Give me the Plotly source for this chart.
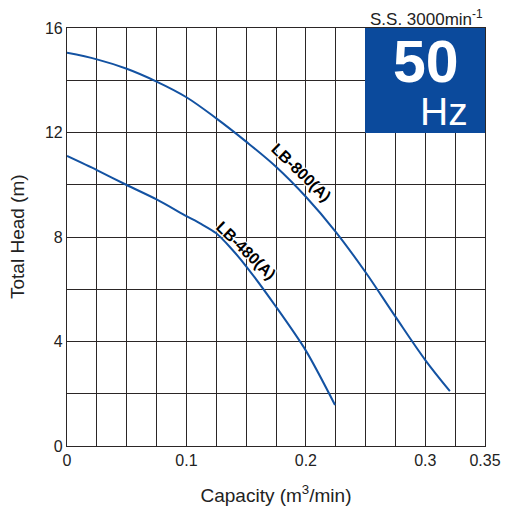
import plotly.graph_objects as go

# LB-800(A) performance curve (50 Hz)
q_800 = [0.0, 0.025, 0.05, 0.075, 0.1, 0.125, 0.15, 0.175, 0.2, 0.225, 0.25, 0.275, 0.3, 0.3206]
h_800 = [15.05, 14.80, 14.44, 13.95, 13.35, 12.54, 11.65, 10.69, 9.54, 8.2, 6.65, 4.95, 3.29, 2.1]

# LB-480(A) performance curve (50 Hz)
q_480 = [0.0, 0.025, 0.05, 0.075, 0.1, 0.1114, 0.125, 0.1373, 0.15, 0.175, 0.2, 0.2244]
h_480 = [11.1, 10.56, 9.99, 9.44, 8.80, 8.52, 8.14, 7.57, 6.88, 5.33, 3.65, 1.57]

x_ticks = [0, 0.1, 0.2, 0.3, 0.35]
x_labels = ["0", "0.1", "0.2", "0.3", "0.35"]
y_ticks = [0, 4, 8, 12, 16]

curve_color = "#1352a2"
grid_color = "#2b2626"
font_family = "Liberation Sans, Arial, sans-serif"

fig = go.Figure()
fig.add_trace(go.Scatter(x=q_800, y=h_800, mode="lines",
                         line=dict(color=curve_color, width=2, shape="spline", smoothing=1.0)))
fig.add_trace(go.Scatter(x=q_480, y=h_480, mode="lines",
                         line=dict(color=curve_color, width=2, shape="spline", smoothing=0.8)))

# curve labels with a white halo
halo = "white 1px 1px 1px, white -1px -1px 1px, white 1px -1px 1px, white -1px 1px 1px"
for name, xv, yv in [("LB-800(A)", 0.196, 10.45), ("LB-480(A)", 0.1497, 7.47)]:
    fig.add_annotation(x=xv, y=yv, text="<b>" + name + "</b>", showarrow=False,
                       textangle=44,
                       font=dict(family=font_family, size=16, color="black", shadow=halo))

# 50 Hz badge
fig.add_shape(type="rect", x0=0.25, x1=0.35, y0=12, y1=16,
              fillcolor="#0b4a9c", line=dict(color="#0b4a9c", width=1))
fig.add_annotation(x=0.3006, y=14.68, text="<b>50</b>", showarrow=False,
                   font=dict(family=font_family, size=59, color="white"))
fig.add_annotation(x=0.3375, y=12.8, text="Hz", showarrow=False, xanchor="right",
                   font=dict(family=font_family, size=39, color="white"))
fig.add_annotation(x=0.35, y=16, yshift=-3, text="S.S. 3000min<sup>-1</sup>",
                   showarrow=False, xanchor="right", yanchor="bottom",
                   font=dict(family=font_family, size=17, color="#222"))

# y axis title placed by hand so it sits close to the left edge
fig.add_annotation(xref="paper", yref="paper", x=0, y=0.5, xshift=-50,
                   xanchor="center", yanchor="middle",
                   text="Total Head (m)", textangle=-90, showarrow=False,
                   font=dict(family=font_family, size=19, color="#222"))

fig.update_xaxes(range=[0, 0.35], tickvals=x_ticks, ticktext=x_labels, automargin=False,
                 showgrid=True, gridcolor=grid_color, gridwidth=1.2,
                 minor=dict(dtick=0.025, showgrid=True, gridcolor=grid_color, gridwidth=1.2),
                 showline=True, linecolor=grid_color, linewidth=1.2, mirror=True, zeroline=False,
                 tickfont=dict(size=16, color="#222"), ticks="",
                 title=dict(text="Capacity (m<sup>3</sup>/min)", font=dict(size=19, color="#222"),
                            standoff=20))
fig.update_yaxes(range=[0, 16], tickvals=y_ticks, automargin=False,
                 showgrid=True, gridcolor=grid_color, gridwidth=1.2,
                 minor=dict(dtick=2, showgrid=True, gridcolor=grid_color, gridwidth=1.2),
                 showline=True, linecolor=grid_color, linewidth=1.2, mirror=True, zeroline=False,
                 tickfont=dict(size=16, color="#222"), ticks="")

# the page adds an 8px body margin, so the figure is sized to fit inside it
fig.update_layout(width=504, height=511, showlegend=False,
                  margin=dict(l=59, r=27, t=20, b=73),
                  plot_bgcolor="white", paper_bgcolor="white",
                  font=dict(family=font_family))

fig.write_html("out.html")
